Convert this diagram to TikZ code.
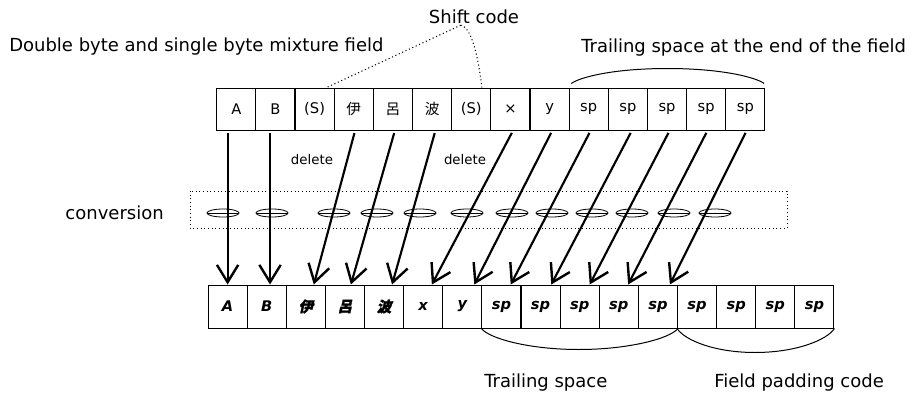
\documentclass[tikz,border=0pt]{standalone}
\usepackage{fontspec}
\setmainfont{DejaVu Sans}
\newfontfamily\jpfont{Noto Sans CJK JP}
\newfontfamily\jpfontbi[FakeSlant=0.22,FakeBold=1.6]{Noto Sans CJK JP}
\usetikzlibrary{arrows.meta,shapes.geometric}

\begin{document}
\begin{tikzpicture}[x=0.75pt,y=0.75pt,yscale=-1,xscale=1,
  cell/.style={draw,line width=0.75pt,minimum width=29.37pt,minimum height=31.5pt,inner sep=0pt,font=\fontsize{11}{13}\selectfont},
  outcell/.style={cell,minimum height=32.25pt,font=\fontsize{11}{13}\selectfont\bfseries\itshape},
  move/.style={line width=1.6pt,-{Straight Barb[length=13pt,width=16pt,line width=1.8pt]},shorten <=2pt},
  lens/.style={draw,ellipse,line width=0.6pt,minimum width=24pt,minimum height=6pt,inner sep=0pt,path picture={\draw[-,line width=0.6pt] (path picture bounding box.west) -- (path picture bounding box.east);}},
  lbl/.style={inner sep=0.75pt,font=\fontsize{13.5}{15}\selectfont},
  leader/.style={dotted,line width=0.8pt},
  brace/.style={line width=0.75pt}
]
\useasboundingbox (0,0) rectangle (918,396);

% Source field
\node[cell] (t1) at (236.3,109) {A};
\node[cell] (t2) at (275.4,109) {B};
\node[cell] (t3) at (314.6,109) {(S)};
\node[cell] (t4) at (353.8,109) {\jpfont 伊};
\node[cell] (t5) at (392.9,109) {\jpfont 呂};
\node[cell] (t6) at (432.1,109) {\jpfont 波};
\node[cell] (t7) at (471.2,109) {(S)};
\node[cell] (t8) at (510.4,109) {×};
\node[cell] (t9) at (549.6,109) {y};
\node[cell] (t10) at (588.7,109) {sp};
\node[cell] (t11) at (627.9,109) {sp};
\node[cell] (t12) at (667.0,109) {sp};
\node[cell] (t13) at (706.2,109) {sp};
\node[cell] (t14) at (745.4,109) {sp};

% Result field
\node[outcell] (b1) at (227.6,306.5) {A};
\node[outcell] (b2) at (266.7,306.5) {B};
\node[outcell] (b3) at (305.8,306.5) {\jpfontbi 伊};
\node[outcell] (b4) at (344.9,306.5) {\jpfontbi 呂};
\node[outcell] (b5) at (384.1,306.5) {\jpfontbi 波};
\node[outcell] (b6) at (423.2,306.5) {x};
\node[outcell] (b7) at (462.3,306.5) {y};
\node[outcell] (b8) at (501.4,306.5) {sp};
\node[outcell] (b9) at (540.6,306.5) {sp};
\node[outcell] (b10) at (579.7,306.5) {sp};
\node[outcell] (b11) at (618.8,306.5) {sp};
\node[outcell] (b12) at (657.9,306.5) {sp};
\node[outcell] (b13) at (697.1,306.5) {sp};
\node[outcell] (b14) at (736.2,306.5) {sp};
\node[outcell] (b15) at (775.3,306.5) {sp};
\node[outcell] (b16) at (814.4,306.5) {sp};

%Shape: Rectangle (conversion band)
\draw[dotted,line width=0.75pt] (190,191) rectangle (787,228);

% Lenses
\node[lens] (l1) at (223,213) {};
\node[lens] (l2) at (272,213) {};
\node[lens] (l3) at (334,213) {};
\node[lens] (l4) at (377,213) {};
\node[lens] (l5) at (420,213) {};
\node[lens] (l6) at (467,213) {};
\node[lens] (l7) at (512,213) {};
\node[lens] (l8) at (552,213) {};
\node[lens] (l9) at (592,213) {};
\node[lens] (l10) at (632,213) {};
\node[lens] (l11) at (674,213) {};
\node[lens] (l12) at (715,213) {};

%Arrows
\draw[move] (b1 |- t1.south) -- (b1.north);
\draw[move] ([xshift=2.5pt]b2 |- t2.south) -- ([xshift=2.5pt]b2.north);
\draw[move] ([xshift=1pt]t4.south) -- ([xshift=6pt]b3.north);
\draw[move] ([xshift=1.5pt]t5.south) -- ([xshift=4.5pt]b4.north);
\draw[move] ([xshift=2.5pt]t6.south) -- ([xshift=6pt]b5.north);
\draw[move] ([xshift=2pt]t8.south) -- ([xshift=6.5pt]b6.north);
\draw[move] ([xshift=2pt]t9.south) -- ([xshift=9pt]b7.north);
\draw[move] ([xshift=1.5pt]t10.south) -- ([xshift=7pt]b8.north);
\draw[move] ([xshift=3pt]t11.south) -- ([xshift=8pt]b9.north);
\draw[move] ([xshift=2pt]t12.south) -- ([xshift=7.5pt]b10.north);
\draw[move] ([xshift=1pt]t13.south) -- ([xshift=7pt]b11.north);
\draw[move] ([xshift=1pt]t14.south) -- ([xshift=9pt]b12.north);

% Text Node
\draw (474,17) node [lbl] (shift) {Shift code};
% Text Node
\draw (8,47) node [lbl,anchor=west] (mix) {Double byte and single byte mixture field};
% Text Node
\draw (580,48) node [lbl,anchor=west] (trail) {Trailing space at the end of the field};
% Text Node
\draw (165,213) node [lbl,anchor=east] (conv) {conversion};
% Text Node
\draw (312,160) node [inner sep=0.75pt,font=\fontsize{10}{12}\selectfont] (del1) {delete};
% Text Node
\draw (465,160) node [inner sep=0.75pt,font=\fontsize{10}{12}\selectfont] (del2) {delete};
% Text Node
\draw (483,383) node [lbl,anchor=west] (tsp) {Trailing space};
% Text Node
\draw (713,383) node [lbl,anchor=west] (pad) {Field padding code};

%Leaders to shift codes
\draw[leader] ([xshift=-10pt]shift.south) -- ([xshift=9pt]t3.north);
\draw[leader] ([xshift=-10pt]shift.south) .. controls +(12,2) and +(-3,-25) .. ([xshift=8pt]t7.north);

%Braces
\draw[brace] ([xshift=2pt,yshift=-3pt]t10.north west) .. controls +(8,-6) and +(-55,0) .. +(96,-15) .. controls +(55,0) and +(-8,-6) .. ([xshift=-1pt,yshift=-3pt]t14.north east);
\draw[brace] (b8.south west) .. controls +(8,10) and +(-50,0) .. +(97.5,21) .. controls +(50,0) and +(-8,10) .. (b12.south east);
\draw[brace] (b13.south west) .. controls +(8,12) and +(-40,0) .. +(78,24) .. controls +(40,0) and +(-8,12) .. (b16.south east);

\end{tikzpicture}
\end{document}
